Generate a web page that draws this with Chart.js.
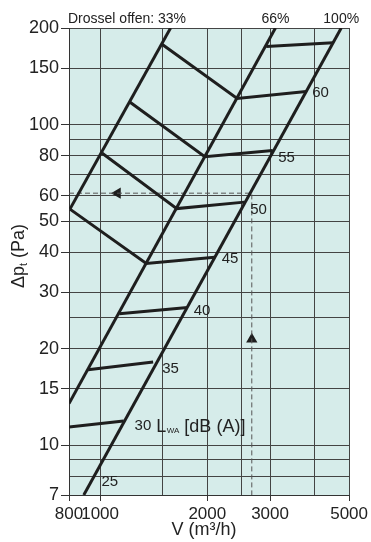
<!DOCTYPE html>
<html>
<head>
<meta charset="utf-8">
<script src="https://cdn.jsdelivr.net/npm/chart.js@4.4.0/dist/chart.umd.min.js"></script>
<style>
  html, body { margin: 0; padding: 0; background: #fff; }
</style>
</head>
<body>
<canvas id="chart" width="371" height="542"></canvas>
<script>
// volume flow V (m3/h) and pressure dp (Pa)
var throttleNames = ['33%', '66%', '100%'];
var throttleV = [[823, 1577], [818, 3106], [900, 4752]];
var throttleDp = [[54.5, 200], [13.5, 200], [7, 200]];

// sound power lines L_WA [dB(A)], points on 33% / 66% / 100% throttle lines
var lwaLevels = [65, 60, 55, 50, 45, 40, 35, 30];
var lwaV = [
  [2927, 4507],
  [1492, 2425, 3790],
  [1214, 1968, 3051],
  [1014, 1642, 2539],
  [823, 1348, 2097],
  [1132, 1762],
  [925, 1409],
  [818, 1164]
];
var lwaDp = [
  [175, 180],
  [178, 120.6, 126.8],
  [117.3, 79.4, 83],
  [81.4, 54.7, 57.3],
  [54.5, 36.9, 38.6],
  [25.7, 26.9],
  [17.2, 18.2],
  [11.4, 11.9]
];
// 25 dB(A) only has its label, where it would meet the 100% line
var lwa25 = [946, 7.7];

// example reading
var exampleV = 2666;
var exampleDp = 61.1;

// axes
var xMin = 818;   // axis on the sheet starts a bit above its "800" label
var xMax = 5000;
var xGrid = [1000, 1500, 2000, 2500, 3000, 4000, 5000];
var xLabels = [1000, 2000, 3000, 5000];
var yMin = 7;
var yMax = 200;
var yGrid = [7, 8, 9, 10, 15, 20, 25, 30, 40, 50, 60, 70, 80, 90, 100, 150, 200];
var yLabels = [7, 10, 15, 20, 30, 40, 50, 60, 80, 100, 150, 200];

var FONT = '"Liberation Sans", Arial, Helvetica, sans-serif';
var INK = '#1e1e1e';

function pts(xs, ys) {
  var out = [];
  for (var i = 0; i < xs.length; i++) out.push({ x: xs[i], y: ys[i] });
  return out;
}

var datasets = [];
for (var i = 0; i < throttleNames.length; i++) {
  datasets.push({
    label: throttleNames[i],
    data: pts(throttleV[i], throttleDp[i]),
    showLine: true, borderColor: INK, borderWidth: 3, pointRadius: 0
  });
}
for (var j = 0; j < lwaLevels.length; j++) {
  datasets.push({
    label: 'L' + lwaLevels[j],
    data: pts(lwaV[j], lwaDp[j]),
    showLine: true, borderColor: INK, borderWidth: 3, pointRadius: 0
  });
}
datasets.push({
  label: 'example',
  data: [{ x: xMin, y: exampleDp }, { x: exampleV, y: exampleDp }, { x: exampleV, y: yMin }],
  showLine: true, borderColor: '#555', borderWidth: 1, borderDash: [5, 3], pointRadius: 0
});
datasets.push({
  label: 'arrows',
  data: [{ x: 1119, y: exampleDp }, { x: exampleV, y: 21.4 }],
  showLine: false, pointStyle: 'triangle', pointRadius: 6.5,
  rotation: [270, 0],
  backgroundColor: INK, borderColor: INK, borderWidth: 0
});

var lwaLabelOffsets = { 60: [6, 1], 55: [5.5, 7], 50: [6, 8], 45: [7, 2], 40: [6, 3], 35: [9, 7] };

var sheetPlugin = {
  id: 'sheet',
  beforeDraw: function(chart) {
    var a = chart.chartArea, ctx = chart.ctx;
    ctx.save();
    ctx.fillStyle = '#d6ecea';
    ctx.fillRect(a.left, a.top, a.right - a.left, a.bottom - a.top);
    ctx.restore();
  },
  afterDraw: function(chart) {
    var ctx = chart.ctx, xs = chart.scales.x, ys = chart.scales.y, a = chart.chartArea;
    ctx.save();
    ctx.fillStyle = '#222';

    // throttle headings
    ctx.font = '14px ' + FONT;
    ctx.textBaseline = 'alphabetic';
    ctx.textAlign = 'left';
    ctx.fillText('Drossel offen: ' + throttleNames[0], a.left - 1, 23);
    ctx.textAlign = 'center';
    for (var i = 1; i < throttleNames.length; i++) {
      var v = throttleV[i][throttleV[i].length - 1];
      ctx.fillText(throttleNames[i], xs.getPixelForValue(v), 23);
    }

    // dB labels at the 100% end of each line
    ctx.font = '15px ' + FONT;
    ctx.textAlign = 'left';
    ctx.textBaseline = 'middle';
    for (var j = 0; j < lwaLevels.length; j++) {
      var off = lwaLabelOffsets[lwaLevels[j]];
      if (!off) continue;
      var n = lwaV[j].length - 1;
      ctx.fillText(String(lwaLevels[j]),
        xs.getPixelForValue(lwaV[j][n]) + off[0],
        ys.getPixelForValue(lwaDp[j][n]) + off[1]);
    }
    ctx.fillText('25', xs.getPixelForValue(lwa25[0]) + 10, ys.getPixelForValue(lwa25[1]));

    // "30 L_WA [dB (A)]"
    var k = lwaLevels.indexOf(30);
    var px = xs.getPixelForValue(lwaV[k][1]) + 11;
    var py = ys.getPixelForValue(lwaDp[k][1]);
    ctx.textBaseline = 'alphabetic';
    ctx.font = '15px ' + FONT;
    ctx.fillText('30', px, py + 8.5);
    px += ctx.measureText('30').width + 5;
    ctx.font = '18px ' + FONT;
    ctx.fillText('L', px, py + 11);
    px += ctx.measureText('L').width + 0.5;
    ctx.font = '8px ' + FONT;
    ctx.fillText('WA', px, py + 12);
    px += ctx.measureText('WA').width + 5;
    ctx.font = '18px ' + FONT;
    ctx.fillText('[dB (A)]', px, py + 11);

    // y title with subscript
    ctx.save();
    ctx.translate(23.5, 256);
    ctx.rotate(-Math.PI / 2);
    ctx.font = '18px ' + FONT;
    var w1 = ctx.measureText('\u0394p').width;
    var w3 = ctx.measureText(' (Pa)').width;
    ctx.font = '11px ' + FONT;
    var w2 = ctx.measureText('t').width;
    var start = -(w1 + w2 + w3) / 2;
    ctx.font = '18px ' + FONT;
    ctx.fillText('\u0394p', start, 0);
    ctx.font = '11px ' + FONT;
    ctx.fillText('t', start + w1, 3);
    ctx.font = '18px ' + FONT;
    ctx.fillText(' (Pa)', start + w1 + w2, 0);
    ctx.restore();

    // x title
    ctx.font = '18px ' + FONT;
    ctx.textAlign = 'center';
    ctx.fillText('V (m\u00B3/h)', a.left + 135, 535);
    ctx.restore();
  }
};

new Chart(document.getElementById('chart'), {
  type: 'scatter',
  data: { datasets: datasets },
  plugins: [sheetPlugin],
  options: {
    responsive: false,
    animation: false,
    events: [],
    layout: { padding: { top: 28, right: 18, left: 0, bottom: 0 }, autoPadding: false },
    plugins: { legend: { display: false }, tooltip: { enabled: false } },
    scales: {
      x: {
        type: 'logarithmic',
        min: xMin,
        max: xMax,
        afterFit: function(s) { s.height = 47; },
        afterBuildTicks: function(s) {
          s.ticks = [xMin].concat(xGrid).map(function(v) { return { value: v }; });
        },
        grid: {
          color: '#444',
          lineWidth: 1,
          tickLength: 6,
          tickColor: function(c) {
            var v = c.tick && c.tick.value;
            return (v === xMin || xLabels.indexOf(v) >= 0) ? '#333' : 'rgba(0,0,0,0)';
          }
        },
        border: { display: true, color: '#333', width: 1 },
        ticks: {
          autoSkip: false,
          maxRotation: 0,
          padding: 3,
          color: '#222',
          font: { family: FONT, size: 17 },
          callback: function(v) {
            if (v === xMin) return '800';
            return xLabels.indexOf(v) >= 0 ? String(v) : '';
          }
        }
      },
      y: {
        type: 'logarithmic',
        min: yMin,
        max: yMax,
        afterFit: function(s) { s.width = 69; },
        afterBuildTicks: function(s) {
          s.ticks = yGrid.map(function(v) { return { value: v }; });
        },
        grid: {
          color: '#444',
          lineWidth: 1,
          tickLength: 8,
          tickColor: function(c) {
            var v = c.tick && c.tick.value;
            return yLabels.indexOf(v) >= 0 ? '#333' : 'rgba(0,0,0,0)';
          }
        },
        border: { display: true, color: '#333', width: 1 },
        ticks: {
          autoSkip: false,
          padding: 2,
          color: '#222',
          font: { family: FONT, size: 18 },
          callback: function(v) {
            return yLabels.indexOf(v) >= 0 ? String(v) : '';
          }
        }
      }
    }
  }
});
</script>
</body>
</html>
